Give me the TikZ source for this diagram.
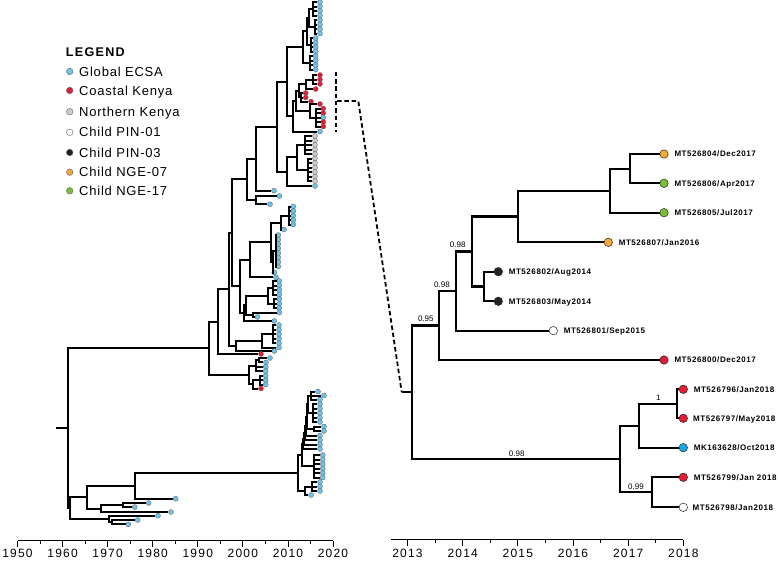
\documentclass[tikz,border=0pt]{standalone}
\usepackage{fontspec}
\setmainfont{Liberation Sans}
\newfontfamily\lblfont[LetterSpace=7]{Liberation Sans}
\newfontfamily\axfont[LetterSpace=10]{Liberation Sans}
\newfontfamily\lgfont[LetterSpace=6]{Liberation Sans}
\newfontfamily\ttlfont[LetterSpace=10]{Liberation Sans}
\usetikzlibrary{calc,positioning}
\definecolor{cbl}{RGB}{110,195,235}
\definecolor{crd}{RGB}{226,29,52}
\definecolor{cgy}{RGB}{205,205,205}
\definecolor{cor}{RGB}{246,168,52}
\definecolor{cgn}{RGB}{122,190,52}
\definecolor{ccy}{RGB}{20,170,225}
\definecolor{cbk}{RGB}{35,35,35}
\newcommand\TRt[4]{\node[tip,#4] (#1) at (#2,#3) {};}
\newcommand\TRn[4][br]{%
  \foreach \ch [count=\ci] in {#4} {\ifnum\ci=1 \xdef\TRfirst{\ch}\fi \xdef\TRlast{\ch}}%
  \path let \p1=(\TRfirst), \p2=(\TRlast) in coordinate (#2) at (#3pt,{0.5*(\y1)+0.5*(\y2)});%
  \foreach \ch in {#4} {\draw[#1] (#2) |- (\ch);}%
}
\tikzset{
 br/.style={line width=2pt},
 br2/.style={line width=2.3pt},
 tip/.style={circle,inner sep=0pt,minimum size=5pt,draw=black!60,line width=0.35pt},
 rtip/.style={circle,inner sep=0pt,minimum size=8.5pt,draw=black!85,line width=0.5pt},
 ltip/.style={circle,inner sep=0pt,minimum size=6.6pt,draw=black!60,line width=0.4pt},
 cb/.style={fill=cbl}, cr/.style={fill=crd}, cg/.style={fill=cgy},
 lbl/.style={font=\lblfont\bfseries\fontsize{8}{9}\selectfont,inner sep=0pt,text height=5.7pt,text depth=0pt,anchor=west},
 bs/.style={font=\fontsize{8}{9}\selectfont,inner sep=0pt,text height=5.7pt,text depth=0pt},
 ax/.style={line width=0.8pt},
 axl/.style={font=\axfont\fontsize{12}{14}\selectfont,inner sep=0pt,text height=8.6pt,text depth=0pt},
 lgt/.style={font=\lgfont\fontsize{13}{15}\selectfont,inner sep=0pt,text height=9.3pt,text depth=0pt,anchor=west},
 ttl/.style={font=\ttlfont\bfseries\fontsize{12.6}{15}\selectfont,inner sep=0pt,text height=9pt,text depth=0pt,anchor=west},
 dashln/.style={line width=1.8pt,dash pattern=on 4.5pt off 2.8pt},
}
\begin{document}
\begin{tikzpicture}[x=1pt,y=-1pt,line join=miter]
\useasboundingbox (0,0) rectangle (778,560);
% ---------------- legend
\node[ttl] (lg) at (65.7,52.3) {LEGEND};
\node[ltip,fill=cbl] (lc1) at (69.7,71.5) {};   \node[lgt] (lt1) at (79,71.5) {Global ECSA};
\node[ltip,fill=crd] (lc2) at (69.7,90.5) {};   \node[lgt] (lt2) at (79,90.5) {Coastal Kenya};
\node[ltip,fill=cgy] (lc3) at (69.7,111.7) {};  \node[lgt] (lt3) at (79,111.7) {Northern Kenya};
\node[ltip,fill=white] (lc4) at (69.7,132.3) {};\node[lgt] (lt4) at (79,132.3) {Child PIN-01};
\node[ltip,fill=cbk] (lc5) at (69.7,152.5) {};  \node[lgt] (lt5) at (79,152.5) {Child PIN-03};
\node[ltip,fill=cor] (lc6) at (69.7,172.2) {};  \node[lgt] (lt6) at (79,172.2) {Child NGE-07};
\node[ltip,fill=cgn] (lc7) at (69.7,190.8) {};  \node[lgt] (lt7) at (79,190.8) {Child NGE-17};
% ---------------- left tree: top blue cluster
\foreach \n/\yy in {1/2,2/6.5,3/11,4/15.5,5/20,6/24.5,7/29,8/33.5} {\TRt{ta\n}{320}{\yy}{cb}}
\TRn{T1a}{313}{ta1,ta2,ta3,ta4}
\TRn{T1b}{315}{ta5,ta6,ta7,ta8}
\TRn{T1}{309}{T1a,T1b}
\foreach \n/\yy in {1/38,2/42.5,3/47,4/51.5,5/56,6/60.5,7/65,8/69.5} {\TRt{tb\n}{315.7}{\yy}{cb}}
\TRn{T2a}{311}{tb1,tb2,tb3,tb4}
\TRn{P5}{306.7}{T1,T2a}
\TRn{Q5}{310}{tb5,tb6,tb7,tb8}
\TRn{N5}{303.3}{P5,Q5}
% red clade
\TRt{r1}{320}{75}{cr}\TRt{r2}{320}{79.5}{cr}\TRt{r3}{320}{84}{cr}
\TRn{R1}{313}{r1,r2,r3}
\TRt{r4}{315.7}{89}{cr}
\TRn{R2}{306}{R1,r4}
\TRt{r5}{305.7}{93}{cr}\TRt{r6}{305.7}{97.5}{cr}\TRt{r7}{311}{101.5}{cr}
\TRn{R3}{301}{r5,r6,r7}
\TRn{R4}{299}{R2,R3}
\TRt{r8}{320}{104}{cr}
\TRt{r9}{323.3}{108.5}{cr}\TRt{r10}{323.3}{113}{cr}\TRt{r11}{323.3}{117.5}{cb}\TRt{r12}{323.3}{122}{cr}\TRt{r13}{323.3}{126.5}{cr}
\TRn{R5}{316}{r9,r10,r11,r12,r13}
\TRn{R6}{310}{r8,R5}
\TRn{R7}{296}{R4,R6}
\TRt{bx}{320}{131.5}{cb}
\TRn{R8}{293}{R7,bx}
\TRn{N4}{286.7}{N5,R8}
% gray clade
\foreach \n/\yy in {1/136,2/140.5,3/145,4/149.5,5/154} {\TRt{g\n}{315}{\yy}{cg}}
\TRn{Gy1}{305}{g1,g2,g3,g4,g5}
\foreach \n/\yy in {6/158.5,7/163,8/167.5,9/172,10/176.5,11/181} {\TRt{g\n}{315}{\yy}{cg}}
\TRn{Gy2}{308}{g6,g7,g8,g9,g10,g11}
\TRn{Gy3}{297}{Gy1,Gy2}
\TRt{bg}{315}{186}{cb}
\TRn{Gy4}{286.7}{Gy3,bg}
\TRn{N3}{276.7}{N4,Gy4}
\TRt{s1}{274}{190.7}{cb}
\TRn{N2}{256}{N3,s1}
\TRt{s2}{279.3}{196}{cb}\TRt{s3}{270}{204.3}{cb}
\TRn{S2}{256}{s2,s3}
\TRn{N1}{246.7}{N2,S2}
% middle clade
\foreach \n/\yy in {1/206.5,2/211,3/215.5,4/220,5/224.5} {\TRt{ma\n}{293.3}{\yy}{cb}}
\TRn{A1}{289}{ma1,ma2,ma3,ma4,ma5}
\TRt{ma6}{284}{229.5}{cb}
\TRn{A2}{281}{A1,ma6}
\foreach \n/\yy in {1/235,2/239.5,3/244,4/248.5,5/253,6/257.5,7/262,8/266.5} {\TRt{mb\n}{278.3}{\yy}{cb}}
\TRn{B1}{275.5}{mb1,mb2,mb3,mb4,mb5,mb6,mb7,mb8}
\TRt{mb9}{274.3}{272.5}{cb}
\TRn{B1p}{273}{B1,mb9}
\TRn{B2}{271}{A2,B1p}
\TRt{mb10}{276}{277.3}{cb}
\TRn{B4}{250}{B2,mb10}
\foreach \n/\yy in {1/281,2/285.5,3/290,4/294.5} {\TRt{mc\n}{279.3}{\yy}{cb}}
\TRn{C1}{273}{mc1,mc2,mc3,mc4}
\foreach \n/\yy in {5/299,6/303.5,7/308} {\TRt{mc\n}{279.3}{\yy}{cb}}
\TRn{C1b}{274}{mc5,mc6,mc7}
\TRn{C2}{268}{C1,C1b}
\TRt{mc8}{279.3}{312.5}{cb}\TRt{mc9}{257.5}{317}{cb}
\TRn{C3}{253.3}{mc8,mc9}
\TRn{C4}{246}{C2,C3}
\TRt{mc10}{274.3}{321}{cb}
\TRn{M3}{244}{C4,mc10}
\TRn{M1}{240}{B4,M3}
\TRn{N0}{231.7}{N1,M1}
% K cluster
\foreach \n/\yy in {1/325,2/329.5,3/334,4/338.5,5/343} {\TRt{k\n}{279}{\yy}{cb}}
\TRn{K1}{273}{k1,k2,k3,k4,k5}
\TRt{k6}{279}{347.5}{cb}
\TRn{K2}{262}{K1,k6}
\TRt{k7}{274.3}{351}{cb}
\TRn{K}{235.7}{K2,k7}
\TRn{I}{229}{N0,K}
\TRt{rh}{261}{354}{cr}
\TRn{H}{217.7}{I,rh}
% G lower clade
\TRt{gl1}{270}{358}{cb}\TRt{gl2}{266}{362.4}{cb}
\TRn{G1}{259}{gl1,gl2}
\TRt{gl3}{265.7}{366.8}{cb}\TRt{gl4}{265.7}{371.2}{cb}
\TRn{G2}{256}{G1,gl3,gl4}
\TRt{gl5}{265.7}{375.7}{cb}\TRt{gl6}{265.7}{380.2}{cb}\TRt{gl7}{265.7}{384.5}{cb}
\TRn{G3}{260}{gl5,gl6,gl7}
\TRt{gl8}{261}{388.5}{cr}
\TRn{G4}{253}{G3,gl8}
\TRn{G5}{249}{G2,G4}
\TRn{G}{209.3}{H,G5}
% Q cluster
\TRt{q1}{318}{391.5}{cb}\TRt{q2}{324}{395.5}{cb}\TRt{q3}{320}{399.5}{cb}
\TRn{Qc}{311}{q1,q2,q3}
\foreach \n/\yy in {4/404,5/408.5,6/413,7/417.5,8/422} {\TRt{q\n}{320}{\yy}{cb}}
\TRn{Qa}{313}{q4,q5,q6,q7,q8}
\TRn{Qd}{308}{Qc,Qa}
\TRt{q9}{324}{426.5}{cb}\TRt{q10}{324}{431}{cb}
\TRn{Qe}{314}{q9,q10}
\TRn{Qg}{307}{Qd,Qe}
\TRt{q11}{320}{435.5}{cb}
\TRn{Qi}{306}{Qg,q11}
\TRt{q12}{320}{440}{cb}
\TRn{Qj}{305}{Qi,q12}
\TRt{q13}{320}{444.5}{cb}
\TRn{Qk}{304}{Qj,q13}
\TRt{q14}{320}{449}{cb}
\TRn{Q3}{303.3}{Qk,q14}
\foreach \n/\yy in {15/455,16/459.5,17/464,18/468.5,19/473,20/477.5} {\TRt{q\n}{322.7}{\yy}{cb}}
\TRn{Q4}{314.3}{q15,q16,q17,q18,q19,q20}
\TRn{Q1}{301.5}{Q3,Q4}
\foreach \n/\yy in {21/482,22/486.5,23/491} {\TRt{q\n}{320}{\yy}{cb}}
\TRn{Qh}{312}{q21,q22,q23}
\TRt{q24}{311}{495}{cb}
\TRn{Q2}{305}{Qh,q24}
\TRn{Q}{298.3}{Q1,Q2}
% bottom-left
\TRt{c1}{175.7}{498.7}{cb}
\TRn{C}{135.3}{Q,c1}
\TRt{e1}{148.7}{503}{cb}\TRt{e2}{134.7}{507}{cb}
\TRn{E}{123.3}{e1,e2}
\TRt{d1}{171}{512}{cb}
\TRn{D}{101.3}{E,d1}
\TRn{A}{87}{C,D}
\TRt{f1}{158}{515.7}{cb}\TRt{f2}{137.7}{520}{cb}\TRt{f3}{128.3}{524.3}{cb}
\TRn{F}{111.7}{f2,f3}
\TRn{B}{109.3}{f1,F}
\TRn{L}{69.5}{A,B}
\TRn{R}{67.7}{G,L}
\path (R) ++(-11.7,0) coordinate (R0);
\draw[br] (R0) -- (R);
% ---------------- right tree
\node[rtip,fill=cor] (x804) at (664,154) {};
\node[rtip,fill=cgn] (x806) at (664,183.3) {};
\node[rtip,fill=cgn] (x805) at (664,212.7) {};
\node[rtip,fill=cor] (x807) at (608.3,242.3) {};
\node[rtip,fill=cbk] (x802) at (498.3,271.7) {};
\node[rtip,fill=cbk] (x803) at (498.3,301.3) {};
\node[rtip,fill=white] (x801) at (553.3,330.7) {};
\node[rtip,fill=crd] (x800) at (664,360) {};
\node[rtip,fill=crd] (x796) at (683.3,389.3) {};
\node[rtip,fill=crd] (x797) at (683.3,418.3) {};
\node[rtip,fill=ccy] (xMK) at (683.3,447.7) {};
\node[rtip,fill=crd] (x799) at (683.3,477.3) {};
\node[rtip,fill=white] (x798) at (683.3,507.3) {};
\TRn[br2]{n1}{630}{x804,x806}
\TRn[br2]{n2}{610}{n1,x805}
\TRn[br2]{n3}{517.7}{n2,x807}
\TRn[br2]{n4}{483.7}{x802,x803}
\TRn[br2]{n5}{472.3}{n3,n4}
\TRn[br2]{n6}{456.3}{n5,x801}
\TRn[br2]{n7}{439.3}{n6,x800}
\TRn[br2]{m1}{676.7}{x796,x797}
\TRn[br2]{m2}{639}{m1,xMK}
\TRn[br2]{m3}{651.7}{x799,x798}
\TRn[br2]{m4}{620}{m2,m3}
\TRn[br2]{rr}{411.7}{n7,m4}
\path (rr) ++(-10,0) coordinate (rs);
\draw[br2] (rs) -- (rr);
% labels
\node[lbl,right=5.8pt of x804] (l804) {MT526804/Dec2017};
\node[lbl,right=5.8pt of x806] (l806) {MT526806/Apr2017};
\node[lbl,right=5.8pt of x805] (l805) {MT526805/Jul2017};
\node[lbl,right=5.8pt of x807] (l807) {MT526807/Jan2016};
\node[lbl,right=5.8pt of x802] (l802) {MT526802/Aug2014};
\node[lbl,right=5.8pt of x803] (l803) {MT526803/May2014};
\node[lbl,right=5.8pt of x801] (l801) {MT526801/Sep2015};
\node[lbl,right=5.8pt of x800] (l800) {MT526800/Dec2017};
\node[lbl,right=5.8pt of x796] (l796) {MT526796/Jan2018};
\node[lbl,right=5.2pt of x797] (l797) {MT526797/May2018};
\node[lbl,right=5.8pt of xMK] (lMK) {MK163628/Oct2018};
\node[lbl,right=5.8pt of x799] (l799) {MT526799/Jan 2018};
\node[lbl,right=4.6pt of x798] (l798) {MT526798/Jan2018};
\node[bs] (b1) at (457.7,244.3) {0.98};
\node[bs] (b2) at (442,284.3) {0.98};
\node[bs] (b3) at (425.8,319) {0.95};
\node[bs] (b4) at (516.7,453.7) {0.98};
\node[bs] (b5) at (658.3,397.3) {1};
\node[bs] (b6) at (636,487) {0.99};
% ---------------- dashed link
\coordinate (dt) at (336,71.7);
\coordinate (db) at (336,131.7);
\coordinate (dm) at (337,101);
\coordinate (dk) at (358.3,101);
\draw[dashln] (dt) -- (db);
\draw[dashln] (dm) -- (dk) -- (rs);
% ---------------- axes
\coordinate (la1) at (17.5,540.5);
\coordinate (la2) at (333,540.5);
\draw[ax] (la1) -- (la2);
\foreach \k/\yr in {0/1950,1/1960,2/1970,3/1980,4/1990,5/2000,6/2010,7/2020} {
  \draw[ax] ({17.5+45.07*\k},540.5) -- ++(0,6);
  \node[axl] (lx\k) at ({17.5+45.07*\k},553.6) {\yr};
}
\foreach \k in {0,...,6} {\draw[ax] ({40.03+45.07*\k},540.5) -- ++(0,3.5);}
\coordinate (ra1) at (391,539.5);
\coordinate (ra2) at (683.3,539.5);
\draw[ax] (ra1) -- (ra2);
\foreach \k/\yr in {0/2013,1/2014,2/2015,3/2016,4/2017,5/2018} {
  \draw[ax] ({407.5+55.17*\k},539.5) -- ++(0,6);
  \node[axl] (rx\k) at ({407.5+55.17*\k},553.3) {\yr};
}
\foreach \k in {0,...,4} {\draw[ax] ({435.08+55.17*\k},539.5) -- ++(0,3);}
\end{tikzpicture}
\end{document}
